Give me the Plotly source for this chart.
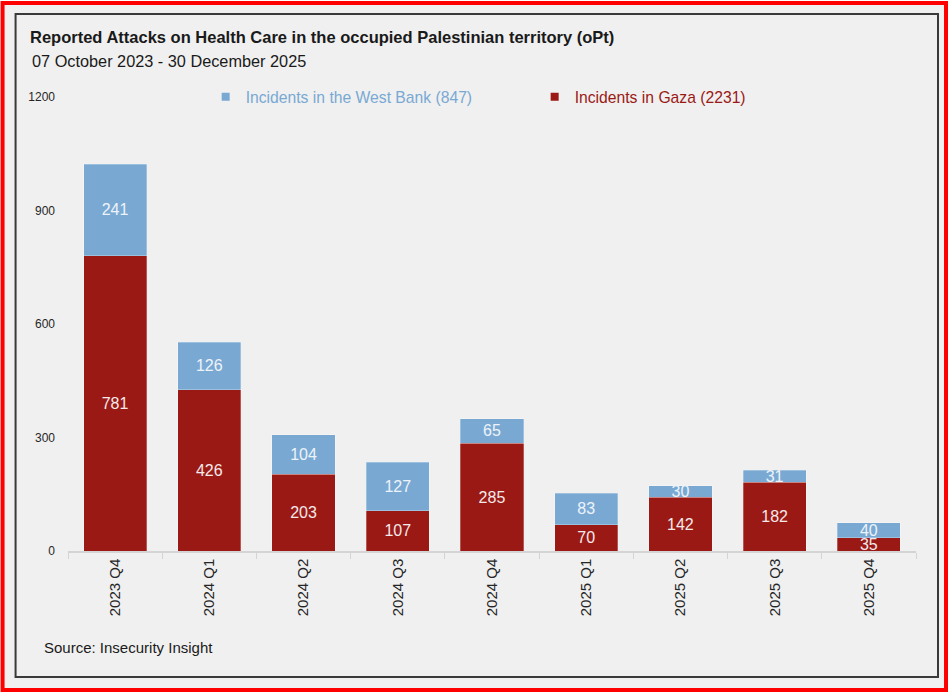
import plotly.graph_objects as go

quarters = ["2023 Q4", "2024 Q1", "2024 Q2", "2024 Q3", "2024 Q4",
            "2025 Q1", "2025 Q2", "2025 Q3", "2025 Q4"]
gaza = [781, 426, 203, 107, 285, 70, 142, 182, 35]
west_bank = [241, 126, 104, 127, 65, 83, 30, 31, 40]
y_ticks = [0, 300, 600, 900, 1200]

BLUE = "#79a9d3"
RED = "#9b1915"
FONT = "Liberation Sans Narrow, Arial Narrow, Liberation Sans, sans-serif"

W, H = 952, 695
L, R, T, B = 68.4, 36, 97, 144
PW, PH = W - L - R, H - T - B


def px(x):
    return (x - L) / PW


def py(y):
    return (H - B - y) / PH


fig = go.Figure()
fig.add_trace(go.Bar(
    x=quarters, y=gaza, name="Incidents in Gaza (%d)" % sum(gaza),
    marker=dict(color=RED, line=dict(width=0.6, color="rgba(255,255,255,0.45)")),
    text=gaza, textposition="inside", insidetextanchor="middle",
    constraintext="none", textangle=0,
    textfont=dict(color="#f4eaea", size=16, family=FONT),
    showlegend=False,
))
fig.add_trace(go.Bar(
    x=quarters, y=west_bank, name="Incidents in the West Bank (%d)" % sum(west_bank),
    marker=dict(color=BLUE, line=dict(width=0.6, color="rgba(255,255,255,0.45)")),
    text=west_bank, textposition="inside", insidetextanchor="middle",
    constraintext="none", textangle=0,
    textfont=dict(color="#eef3f9", size=16, family=FONT),
    showlegend=False,
))
# legend entries
fig.add_trace(go.Scatter(
    x=[None], y=[None], mode="markers",
    marker=dict(symbol="square", size=8, color=BLUE),
    name="<span style='color:%s'>Incidents in the West Bank (%d)</span>" % (BLUE, sum(west_bank)),
))
fig.add_trace(go.Scatter(
    x=[None], y=[None], mode="markers",
    marker=dict(symbol="square", size=8, color=RED),
    name="<span style='color:%s'>Incidents in Gaza (%d)</span>" % (RED, sum(gaza)),
))

fig.update_layout(
    width=W, height=H,
    margin=dict(l=L, r=R, t=T, b=B),
    barmode="stack", bargap=0.33,
    paper_bgcolor="white", plot_bgcolor="#f0f0f0",
    font=dict(family=FONT, color="#262626"),
    title=dict(
        text="<b>Reported Attacks on Health Care in the occupied Palestinian territory (oPt)</b>",
        x=30 / W, xanchor="left", xref="container",
        y=1 - 37 / H, yanchor="middle", yref="container",
        font=dict(size=16.5, color="#1a1a1a", family=FONT),
    ),
    legend=dict(
        orientation="h", x=px(206), xanchor="left", y=1, yanchor="middle",
        font=dict(size=15.7, family=FONT), itemwidth=30, traceorder="normal",
        bgcolor="rgba(0,0,0,0)", entrywidth=284, entrywidthmode="pixels",
    ),
    xaxis=dict(
        type="category", tickangle=-90,
        showline=True, linecolor="#d4d4d4", linewidth=1.5,
        ticks="outside", tickson="boundaries", ticklen=6, tickcolor="#d4d4d4",
        tickfont=dict(size=15, color="#262626", family=FONT),
        showgrid=False, zeroline=False,
    ),
    yaxis=dict(
        range=[0, 1200], tickvals=y_ticks, showgrid=False, zeroline=False,
        showline=False, tickfont=dict(size=12, color="#262626", family=FONT),
        ticklabelstandoff=12,
    ),
    annotations=[
        dict(text="07 October 2023 - 30 December 2025", xref="paper", yref="paper",
             x=px(30), y=py(61), xanchor="left", yanchor="middle", showarrow=False,
             font=dict(size=16.3, color="#1a1a1a", family=FONT)),
        dict(text="Source: Insecurity Insight", xref="paper", yref="paper",
             x=px(42), y=py(647), xanchor="left", yanchor="middle", showarrow=False,
             font=dict(size=15, color="#1a1a1a", family=FONT)),
    ],
    shapes=[
        dict(type="rect", xref="paper", yref="paper", layer="below",
             x0=px(3), x1=px(946), y0=py(3), y1=py(690),
             fillcolor="#f0f0f0", line=dict(color="#ff0000", width=4)),
        dict(type="rect", xref="paper", yref="paper", layer="above",
             x0=px(16), x1=px(938), y0=py(14), y1=py(677),
             line=dict(color="#3a3a3a", width=2)),
    ],
)

fig.write_html("out.html", config={"displayModeBar": False},
               post_script="document.body.style.margin='0';")
